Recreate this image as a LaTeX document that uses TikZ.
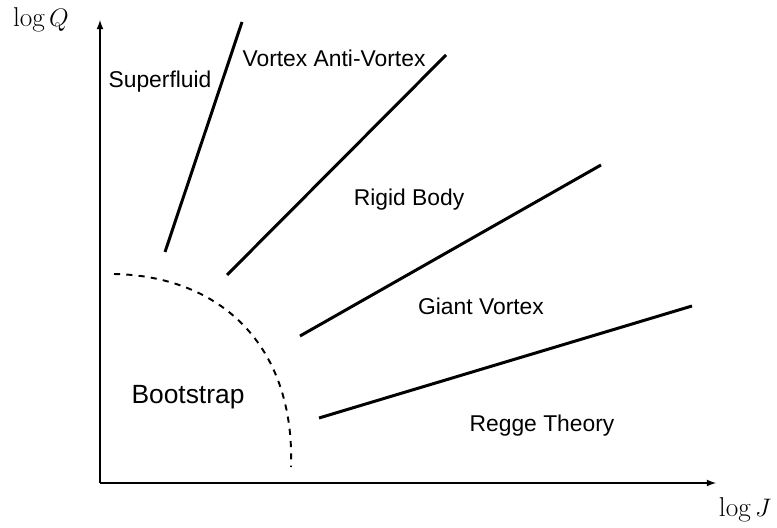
\documentclass[tikz,border=0pt]{standalone}
\usepackage{fontspec}
\setsansfont{Liberation Sans}
\begin{document}
\begin{tikzpicture}[scale=1,
    region/.style={font=\sffamily\fontsize{13}{15}\selectfont},
    axislabel/.style={font=\fontsize{15.5}{18}\selectfont},
    border/.style={line width=1.7pt}]
    \useasboundingbox (-2,-0.88) rectangle (13.54,9.66);
    \draw[-latex,line width=0.8pt] (0,0) -- (12.32,0);
    \draw[-latex,line width=0.8pt] (0,0) -- (0,9.26);
    \node[axislabel] (logq) at (-1.18,9.26) {$\log Q$};
    \node[axislabel] (logj) at (12.9,-0.54) {$\log J$};
    % phase boundaries
    \foreach \a/\b/\c/\d in {1.3/4.62/2.84/9.22, 2.54/4.16/6.92/8.56,
                            4.0/2.94/10.02/6.36, 4.38/1.3/11.84/3.54}
    \draw[border] (\a,\b) -- (\c,\d);
    \draw[dashed,line width=1.1pt,dash pattern=on 3.5pt off 3.5pt]
        (0.28,4.18) .. controls (2.4,4.14) and (3.9,2.76) .. (3.82,0.32);
    % regions
    \node[region] (superfluid) at (1.2,8.02) {Superfluid};
    \node[region] (vav) at (4.68,8.5) {Vortex Anti-Vortex};
    \node[region] (rigid) at (6.18,5.66) {Rigid Body};
    \node[region] (giant) at (7.62,3.54) {Giant Vortex};
    \node[region] (boot) at (1.76,1.72) {\fontsize{15}{18}\selectfont Bootstrap};
    \node[region] (regge) at (8.84,1.14) {Regge Theory};
\end{tikzpicture}
\end{document}
